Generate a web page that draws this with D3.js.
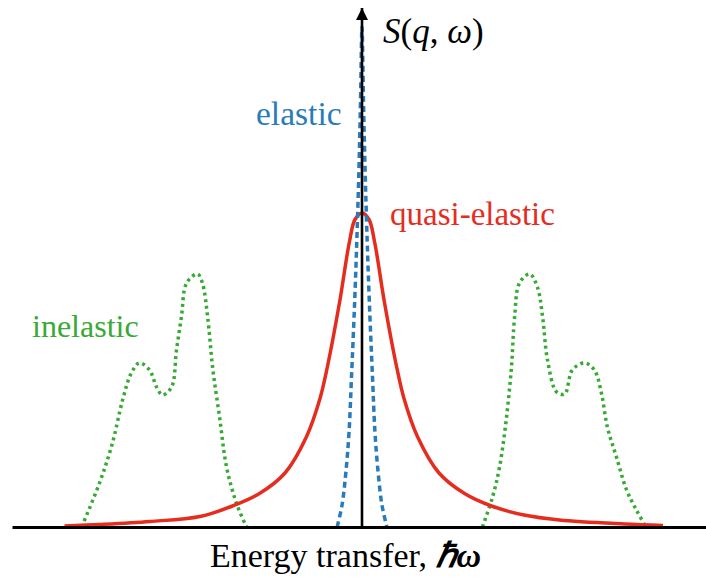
<!DOCTYPE html>
<html>
<head>
<meta charset="utf-8">
<script src="https://cdn.jsdelivr.net/npm/d3@7"></script>
<style>
  body { margin: 0; background: #fff; }
</style>
</head>
<body>
<div id="chart"></div>
<script>
// energy transfer (arb. units) and intensity
const elasticX = [-0.71, -0.57, -0.46, -0.37, -0.30, -0.21, -0.14, -0.086, -0.043, 0, 0.043, 0.086, 0.14, 0.21, 0.30, 0.37, 0.46, 0.57, 0.71];
const elasticY = [0, 0.044, 0.11, 0.19, 0.30, 0.45, 0.59, 0.72, 0.85, 1.0, 0.85, 0.72, 0.59, 0.45, 0.30, 0.19, 0.11, 0.044, 0];

const quasiX = [-8.5, -7.5, -6.06, -4.63, -3.7, -2.93, -2.2, -1.59, -1.2, -0.99, -0.64, -0.36, -0.2, 0, 0.2, 0.36, 0.64, 0.99, 1.2, 1.59, 2.2, 2.93, 3.7, 4.63, 5.64, 7.5, 8.6];
const quasiY = [0.002, 0.005, 0.011, 0.021, 0.042, 0.067, 0.108, 0.18, 0.257, 0.32, 0.45, 0.57, 0.615, 0.628, 0.615, 0.57, 0.45, 0.32, 0.257, 0.18, 0.108, 0.067, 0.042, 0.024, 0.014, 0.006, 0.003];

const inelLeftX = [-8.01, -7.5, -7.13, -6.84, -6.59, -6.36, -6.07, -5.87, -5.7, -5.44, -5.3, -5.16, -5.01, -4.7, -4.56, -4.41, -4.27, -4.07, -3.87, -3.59, -3.3];
const inelLeftY = [0, 0.088, 0.168, 0.254, 0.308, 0.328, 0.314, 0.28, 0.264, 0.28, 0.354, 0.42, 0.488, 0.506, 0.488, 0.42, 0.32, 0.22, 0.12, 0.048, 0];

const inelRightX = [3.44, 3.73, 3.93, 4.13, 4.27, 4.36, 4.5, 4.79, 5.01, 5.16, 5.3, 5.56, 5.79, 6.01, 6.36, 6.64, 6.84, 7.01, 7.27, 7.56, 7.84, 8.07];
const inelRightY = [0, 0.06, 0.12, 0.22, 0.32, 0.42, 0.488, 0.506, 0.48, 0.42, 0.334, 0.27, 0.266, 0.314, 0.328, 0.314, 0.268, 0.2, 0.14, 0.074, 0.034, 0.005];

const width = 706;
const height = 584;
const serif = "'Liberation Serif'";

const x = d3.scaleLinear().domain([-10, 10]).range([12, 712]);
const y = d3.scaleLinear().domain([0, 1]).range([527, 27]);

const svg = d3.select("#chart")
    .append("svg")
    .attr("width", width)
    .attr("height", height);

svg.append("defs").append("marker")
    .attr("id", "arrow")
    .attr("markerUnits", "userSpaceOnUse")
    .attr("viewBox", "0 0 12 12")
    .attr("refX", 12).attr("refY", 6)
    .attr("markerWidth", 12).attr("markerHeight", 12)
    .attr("orient", "auto")
    .append("path")
    .attr("d", "M0,0 L12,6 L0,12 Z")
    .attr("fill", "#000");

const line = d3.line()
    .x(d => x(d[0]))
    .y(d => y(d[1]))
    .curve(d3.curveCatmullRom.alpha(0.5));

const zip = (a, b) => a.map((v, i) => [v, b[i]]);

// inelastic (green dotted)
[zip(inelLeftX, inelLeftY), zip(inelRightX, inelRightY)].forEach(pts => {
  svg.append("path")
      .attr("d", line(pts))
      .attr("fill", "none")
      .attr("stroke", "#38a935")
      .attr("stroke-width", 3.5)
      .attr("stroke-dasharray", "3,3.6");
});

// quasi-elastic (red)
svg.append("path")
    .attr("d", line(zip(quasiX, quasiY)))
    .attr("fill", "none")
    .attr("stroke", "#e42d1f")
    .attr("stroke-width", 3.5);

// elastic (blue dashed)
svg.append("path")
    .attr("d", line(zip(elasticX, elasticY)))
    .attr("fill", "none")
    .attr("stroke", "#2a7bba")
    .attr("stroke-width", 3.5)
    .attr("stroke-dasharray", "6,4");

// axes
svg.append("g")
    .attr("transform", `translate(0,${y(0)})`)
    .call(d3.axisBottom(x).ticks(0).tickSizeOuter(0))
    .call(g => g.select(".domain").attr("stroke", "#000").attr("stroke-width", 2.8));

svg.append("line")
    .attr("x1", x(0)).attr("x2", x(0))
    .attr("y1", y(0)).attr("y2", y(1.038))
    .attr("stroke", "#000")
    .attr("stroke-width", 2.6)
    .attr("marker-end", "url(#arrow)");

// labels
const label = (tx, ty, size, color) => svg.append("text")
    .attr("x", tx).attr("y", ty)
    .style("font-family", serif)
    .style("font-size", size + "px")
    .attr("fill", color);

const yLab = label(383, 43, 35, "#000").style("font-style", "italic");
yLab.append("tspan").text("S");
yLab.append("tspan").style("font-style", "normal").text("(");
yLab.append("tspan").text("q");
yLab.append("tspan").style("font-style", "normal").text(", ");
yLab.append("tspan").text("ω");
yLab.append("tspan").style("font-style", "normal").text(")");

label(256, 125, 33.5, "#2a7bba").text("elastic");
label(390, 225, 33, "#e42d1f").text("quasi-elastic");
label(32, 337, 32, "#38a935").text("inelastic");

const xLab = label(210, 567, 34, "#000");
xLab.append("tspan").text("Energy transfer, ");
xLab.append("tspan").style("font-weight", "bold").style("font-style", "italic").text("ℏω");
</script>
</body>
</html>
